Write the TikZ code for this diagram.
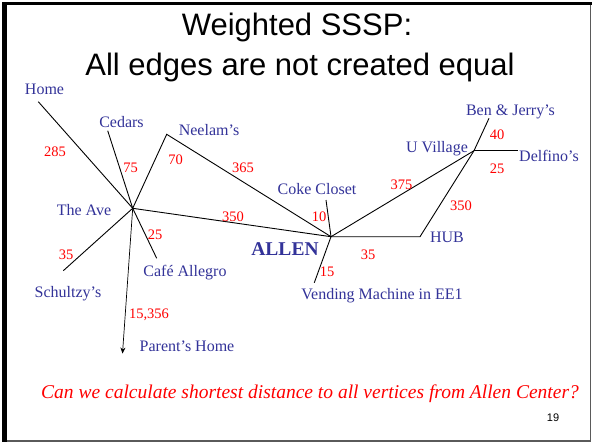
\documentclass[tikz,border=0pt]{standalone}
\usepackage{fontspec}
\setmainfont{Liberation Serif}
\newfontfamily\arialf{Liberation Sans}
\usetikzlibrary{arrows.meta}
\definecolor{lblue}{RGB}{51,51,153}
\definecolor{framegray}{RGB}{90,90,90}
\begin{document}
\begin{tikzpicture}[x=1pt,y=-1pt,
  place/.style={text=lblue, font=\fontsize{16}{18}\selectfont, inner sep=0pt, text height=11pt, text depth=3.5pt},
  wt/.style={text=red, font=\fontsize{14.5}{17}\selectfont, inner sep=0pt, text height=10pt, text depth=0pt},
  edge/.style={draw=black, line width=0.9pt},
  titletext/.style={font=\arialf\fontsize{31}{36}\selectfont, inner sep=0pt, anchor=base}]
\useasboundingbox (0,0) rectangle (593,444);
\fill[white] (0,0) rectangle (593,444);
% frame
\draw[framegray, line width=1.5pt] (5,441) -- (590.5,441) -- (590.5,3);
\draw[black, line width=3pt] (2,4) -- (591.5,4);
\draw[black, line width=4.5pt] (4.3,2.5) -- (4.3,442);

% title
\node[titletext] (t1) at (297,35) {Weighted SSSP:};
\node[titletext] (t2) at (300,75) {All edges are not created equal};

% graph points
\coordinate (ave) at (132.7,208.3);
\coordinate (allen) at (331,236.7);
\coordinate (uv) at (474,150.7);
\coordinate (home) at (38.3,101.7);
\coordinate (cedars) at (107.7,130.7);
\coordinate (neelam) at (166.7,134.3);
\coordinate (schultzy) at (63.3,270.7);
\coordinate (cafe) at (156.7,258.3);
\coordinate (parents) at (122.5,353.5);
\coordinate (coke) at (326,200);
\coordinate (vending) at (314.3,282.7);
\coordinate (hub) at (420,236.7);
\coordinate (bj) at (489,118.3);
\coordinate (delf) at (518.3,150.7);

% edges
\draw[edge] (ave) -- (home);
\draw[edge] (ave) -- (cedars);
\draw[edge] (ave) -- (neelam) -- (allen);
\draw[edge] (ave) -- (schultzy);
\draw[edge] (ave) -- (cafe);
\draw[edge] (ave) -- (allen);
\draw[line width=0.7pt, -{Stealth[length=6pt,width=5pt]}] (ave) -- (parents);
\draw[edge] (allen) -- (coke);
\draw[edge] (allen) -- (vending);
\draw[edge] (allen) -- (hub) -- (uv);
\draw[edge] (allen) -- (uv);
\draw[edge] (uv) -- (bj);
\draw[edge] (uv) -- (delf);

% place labels
\node[place] (lhome) at (44.5,91) {Home};
\node[place] (lcedars) at (121.5,124) {Cedars};
\node[place] (lneelam) at (209,132) {Neelam’s};
\node[place] (lave) at (84,211.5) {The Ave};
\node[place] (lcafe) at (185,273) {Café Allegro};
\node[place] (lschultzy) at (68,293.5) {Schultzy’s};
\node[place] (lparents) at (187,347.5) {Parent’s Home};
\node[place] (lcoke) at (317,190.5) {Coke Closet};
\node[place] (luv) at (437,149) {U Village};
\node[place] (lbj) at (510.5,111.5) {Ben \& Jerry’s};
\node[place] (ldelf) at (549,157.5) {Delfino’s};
\node[place] (lhub) at (447,238.5) {HUB};
\node[place] (lvend) at (382,295.5) {Vending Machine in EE1};
\node[text=lblue, font=\bfseries\fontsize{19.5}{22}\selectfont, inner sep=0pt] (lallen) at (285,249) {ALLEN};

% weights
\node[wt] (w285) at (55,151.5) {285};
\node[wt] (w75) at (130.7,167) {75};
\node[wt] (w70) at (175.5,159) {70};
\node[wt] (w365) at (243,167) {365};
\node[wt] (w350a) at (233,216) {350};
\node[wt] (w25a) at (155,234) {25};
\node[wt] (w35a) at (66,254) {35};
\node[wt] (w15356) at (149,313.5) {15,356};
\node[wt] (w10) at (319,216.5) {10};
\node[wt] (w375) at (401.5,184) {375};
\node[wt] (w40) at (497,134) {40};
\node[wt] (w25b) at (497,168) {25};
\node[wt] (w350b) at (461,205.5) {350};
\node[wt] (w35b) at (368,254.5) {35};
\node[wt] (w15) at (327,271) {15};

% question
\node[text=red, font=\itshape\fontsize{19.5}{22}\selectfont, inner sep=0pt, anchor=base] (q) at (310,398) {Can we calculate shortest distance to all vertices from Allen Center?};
\node[font=\arialf\fontsize{11}{13}\selectfont, inner sep=0pt, anchor=base] (pg) at (553,421.5) {19};
\end{tikzpicture}
\end{document}
